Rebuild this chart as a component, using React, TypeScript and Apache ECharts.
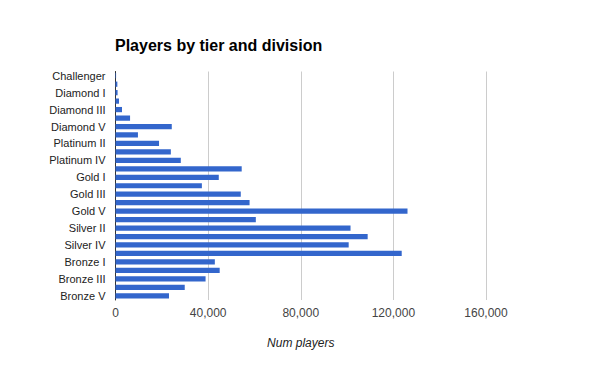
import React, { useEffect, useRef } from "react";
import * as echarts from "echarts";

const categories = [
  "Challenger", "Master", "Diamond I", "Diamond II", "Diamond III", "Diamond IV", "Diamond V",
  "Platinum I", "Platinum II", "Platinum III", "Platinum IV", "Platinum V",
  "Gold I", "Gold II", "Gold III", "Gold IV", "Gold V",
  "Silver I", "Silver II", "Silver III", "Silver IV", "Silver V",
  "Bronze I", "Bronze II", "Bronze III", "Bronze IV", "Bronze V",
];

const players = [
  250, 800, 900, 1500, 2800, 6300, 24300,
  9700, 18800, 23900, 28200, 54500,
  44600, 37300, 54100, 57900, 126100,
  60600, 101500, 108900, 100700, 123600,
  42900, 45000, 38900, 29900, 23100,
];

const xTicks = [0, 40000, 80000, 120000, 160000];

export default function App() {
  const ref = useRef<HTMLDivElement>(null);
  useEffect(() => {
    if (!ref.current) return;
    const chart = echarts.init(ref.current, null, { renderer: "svg" });
    chart.setOption({
      animation: false,
      backgroundColor: "#ffffff",
      title: {
        text: "Players by tier and division",
        left: 115,
        top: 37,
        padding: 0,
        textStyle: { fontFamily: "Liberation Sans, Arial", fontSize: 16, fontWeight: "bold", color: "#000000" },
      },
      grid: { left: 115.5, right: 114, top: 71.5, bottom: 71, containLabel: false },
      xAxis: {
        type: "value",
        min: xTicks[0],
        max: xTicks[xTicks.length - 1],
        interval: 40000,
        name: "Num players",
        nameLocation: "middle",
        nameGap: 37,
        nameTextStyle: { fontFamily: "Liberation Sans, Arial", fontSize: 12, fontStyle: "italic", color: "#222222" },
        axisLine: { show: false },
        axisTick: { show: false },
        axisLabel: {
          margin: 7,
          fontFamily: "Liberation Sans, Arial",
          fontSize: 12,
          color: "#444444",
          formatter: (v: number) => v.toLocaleString("en-US"),
        },
        splitLine: { show: true, lineStyle: { color: "#cccccc", width: 1 } },
      },
      yAxis: {
        type: "category",
        data: categories,
        inverse: true,
        axisLine: { show: true, lineStyle: { color: "#333333", width: 1 } },
        axisTick: { show: false },
        axisLabel: {
          interval: 1,
          margin: 10,
          fontFamily: "Liberation Sans, Arial",
          fontSize: 11,
          color: "#222222",
        },
        splitLine: { show: false },
      },
      series: [
        {
          type: "bar",
          data: players,
          barCategoryGap: "38%",
          itemStyle: { color: "#3366cc" },
        },
      ],
    });
    return () => chart.dispose();
  }, []);
  return <div ref={ref} style={{ width: 600, height: 371, position: "absolute", left: 0, top: 0 }} />;
}
